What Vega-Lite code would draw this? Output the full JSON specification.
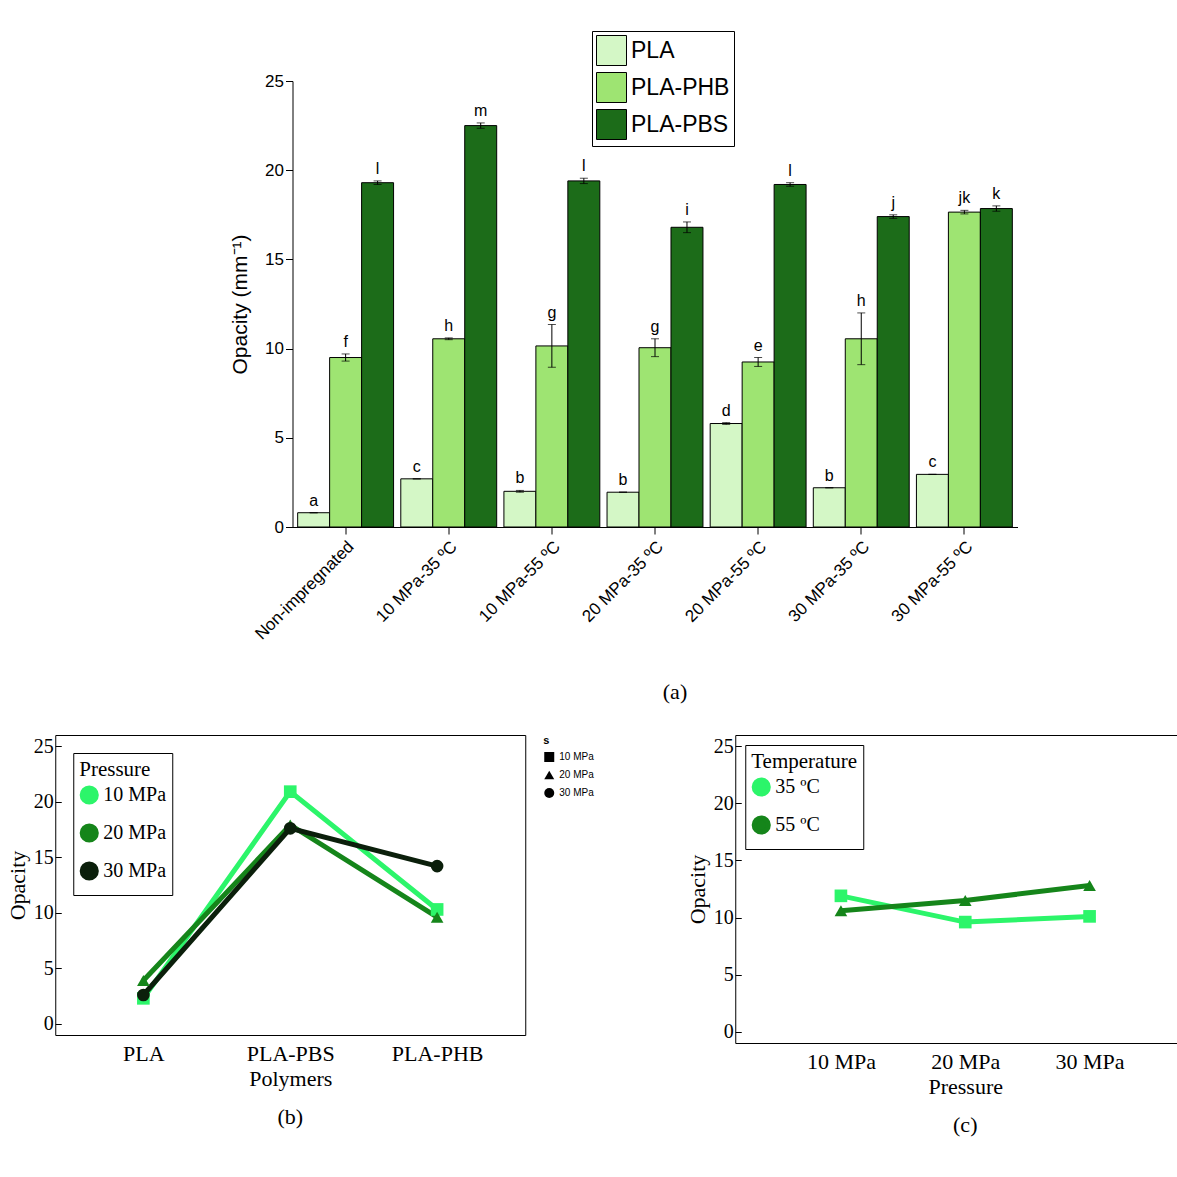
{
  "$schema": "https://vega.github.io/schema/vega-lite/v6.json",
  "background": "white",
  "padding": {"left": 5, "top": 30, "right": 5, "bottom": 5},
  "spacing": 30,
  "center": true,
  "datasets": {
    "bars": [
      {"cond": "Non-impregnated", "poly": "PLA", "v": 0.8, "lo": 0.8, "hi": 0.8, "lab": "a"},
      {"cond": "Non-impregnated", "poly": "PLA-PHB", "v": 9.5, "lo": 9.3, "hi": 9.7, "lab": "f"},
      {"cond": "Non-impregnated", "poly": "PLA-PBS", "v": 19.3, "lo": 19.2, "hi": 19.4, "lab": "l"},
      {"cond": "10 MPa-35 ºC", "poly": "PLA", "v": 2.7, "lo": 2.7, "hi": 2.7, "lab": "c"},
      {"cond": "10 MPa-35 ºC", "poly": "PLA-PHB", "v": 10.55, "lo": 10.5, "hi": 10.6, "lab": "h"},
      {"cond": "10 MPa-35 ºC", "poly": "PLA-PBS", "v": 22.5, "lo": 22.35, "hi": 22.65, "lab": "m"},
      {"cond": "10 MPa-55 ºC", "poly": "PLA", "v": 2.0, "lo": 1.95, "hi": 2.05, "lab": "b"},
      {"cond": "10 MPa-55 ºC", "poly": "PLA-PHB", "v": 10.15, "lo": 8.95, "hi": 11.35, "lab": "g"},
      {"cond": "10 MPa-55 ºC", "poly": "PLA-PBS", "v": 19.4, "lo": 19.25, "hi": 19.55, "lab": "l"},
      {"cond": "20 MPa-35 ºC", "poly": "PLA", "v": 1.95, "lo": 1.95, "hi": 1.95, "lab": "b"},
      {"cond": "20 MPa-35 ºC", "poly": "PLA-PHB", "v": 10.05, "lo": 9.55, "hi": 10.55, "lab": "g"},
      {"cond": "20 MPa-35 ºC", "poly": "PLA-PBS", "v": 16.8, "lo": 16.5, "hi": 17.1, "lab": "i"},
      {"cond": "20 MPa-55 ºC", "poly": "PLA", "v": 5.8, "lo": 5.75, "hi": 5.85, "lab": "d"},
      {"cond": "20 MPa-55 ºC", "poly": "PLA-PHB", "v": 9.25, "lo": 9.0, "hi": 9.5, "lab": "e"},
      {"cond": "20 MPa-55 ºC", "poly": "PLA-PBS", "v": 19.2, "lo": 19.1, "hi": 19.3, "lab": "l"},
      {"cond": "30 MPa-35 ºC", "poly": "PLA", "v": 2.2, "lo": 2.2, "hi": 2.2, "lab": "b"},
      {"cond": "30 MPa-35 ºC", "poly": "PLA-PHB", "v": 10.55, "lo": 9.1, "hi": 12.0, "lab": "h"},
      {"cond": "30 MPa-35 ºC", "poly": "PLA-PBS", "v": 17.4, "lo": 17.3, "hi": 17.5, "lab": "j"},
      {"cond": "30 MPa-55 ºC", "poly": "PLA", "v": 2.95, "lo": 2.95, "hi": 2.95, "lab": "c"},
      {"cond": "30 MPa-55 ºC", "poly": "PLA-PHB", "v": 17.65, "lo": 17.55, "hi": 17.75, "lab": "jk"},
      {"cond": "30 MPa-55 ºC", "poly": "PLA-PBS", "v": 17.85, "lo": 17.7, "hi": 18.0, "lab": "k"}
    ],
    "poly": [
      {"x": "PLA", "s": "10 MPa", "v": 2.3},
      {"x": "PLA-PBS", "s": "10 MPa", "v": 20.9},
      {"x": "PLA-PHB", "s": "10 MPa", "v": 10.3},
      {"x": "PLA", "s": "20 MPa", "v": 3.9},
      {"x": "PLA-PBS", "s": "20 MPa", "v": 17.9},
      {"x": "PLA-PHB", "s": "20 MPa", "v": 9.6},
      {"x": "PLA", "s": "30 MPa", "v": 2.6},
      {"x": "PLA-PBS", "s": "30 MPa", "v": 17.6},
      {"x": "PLA-PHB", "s": "30 MPa", "v": 14.2}
    ],
    "press": [
      {"x": "10 MPa", "s": "35 ºC", "v": 11.9},
      {"x": "20 MPa", "s": "35 ºC", "v": 9.6},
      {"x": "30 MPa", "s": "35 ºC", "v": 10.1},
      {"x": "10 MPa", "s": "55 ºC", "v": 10.6},
      {"x": "20 MPa", "s": "55 ºC", "v": 11.5},
      {"x": "30 MPa", "s": "55 ºC", "v": 12.8}
    ]
  },
  "vconcat": [
    {
      "width": 725,
      "height": 446,
      "data": {"name": "bars"},
      "title": {"text": "(a)", "orient": "bottom", "font": "Liberation Serif", "fontSize": 22, "fontWeight": "normal", "offset": 40, "dx": 20},
      "view": {"stroke": null},
      "encoding": {
        "x": {
          "field": "cond", "type": "nominal", "sort": null, "title": null,
          "scale": {"paddingInner": 0.07, "paddingOuter": 0.05},
          "axis": {"labelAngle": -45, "labelFont": "Liberation Sans", "labelFontSize": 17, "labelColor": "black", "domainColor": "black", "tickColor": "black", "tickSize": 7, "labelPadding": 4}
        },
        "xOffset": {"field": "poly", "type": "nominal", "sort": ["PLA", "PLA-PHB", "PLA-PBS"], "scale": {"paddingInner": 0}}
      },
      "layer": [
        {
          "mark": {"type": "bar", "stroke": "black", "strokeWidth": 1},
          "encoding": {
            "y": {
              "field": "v", "type": "quantitative", "title": "Opacity (mm⁻¹)",
              "scale": {"domain": [0, 25], "nice": false},
              "axis": {"values": [0, 5, 10, 15, 20, 25], "grid": false, "labelFont": "Liberation Sans", "labelFontSize": 17, "labelColor": "black", "titleFont": "Liberation Sans", "titleFontSize": 21, "titleFontWeight": "normal", "titleColor": "black", "domainColor": "black", "tickColor": "black", "tickSize": 7, "titlePadding": 14}
            },
            "color": {
              "field": "poly", "type": "nominal", "sort": ["PLA", "PLA-PHB", "PLA-PBS"],
              "scale": {"domain": ["PLA", "PLA-PHB", "PLA-PBS"], "range": ["#d4f7c6", "#9ee472", "#1c6c19"]},
              "legend": {"orient": "none", "legendX": 537, "legendY": -50, "title": null, "symbolType": "square", "symbolSize": 900, "symbolStrokeColor": "black", "symbolStrokeWidth": 1, "labelFont": "Liberation Sans", "labelFontSize": 23, "labelColor": "black", "strokeColor": "black", "padding": 4, "rowPadding": 2, "fillColor": "white"}
            }
          }
        },
        {
          "mark": {"type": "rule", "color": "black"},
          "encoding": {"y": {"field": "lo", "type": "quantitative"}, "y2": {"field": "hi"}}
        },
        {
          "mark": {"type": "tick", "color": "black", "orient": "horizontal", "size": 8},
          "encoding": {"y": {"field": "lo", "type": "quantitative"}}
        },
        {
          "mark": {"type": "tick", "color": "black", "orient": "horizontal", "size": 8},
          "encoding": {"y": {"field": "hi", "type": "quantitative"}}
        },
        {
          "mark": {"type": "text", "font": "Liberation Sans", "fontSize": 16, "dy": -12, "color": "black"},
          "encoding": {"y": {"field": "hi", "type": "quantitative"}, "text": {"field": "lab"}}
        }
      ]
    },
    {
      "spacing": 90,
      "resolve": {"scale": {"color": "independent", "shape": "independent"}, "legend": {"color": "independent", "shape": "independent"}},
      "hconcat": [
        {
          "width": 470,
          "height": 300,
          "data": {"name": "poly"},
          "title": {"text": "(b)", "orient": "bottom", "font": "Liberation Serif", "fontSize": 22, "fontWeight": "normal", "offset": 18},
          "view": {"stroke": "black"},
          "mark": {"type": "line", "strokeWidth": 5, "point": {"filled": true, "size": 160}},
          "encoding": {
            "x": {"field": "x", "type": "nominal", "sort": null, "title": "Polymers", "scale": {"type": "point", "padding": 0.6},
              "axis": {"labelAngle": 0, "labelFont": "Liberation Serif", "labelFontSize": 22, "labelColor": "black", "titleFont": "Liberation Serif", "titleFontSize": 22, "titleFontWeight": "normal", "titleColor": "black", "ticks": false, "domain": false, "labelPadding": 8}},
            "y": {"field": "v", "type": "quantitative", "title": "Opacity", "scale": {"domain": [-1, 26], "nice": false},
              "axis": {"values": [0, 5, 10, 15, 20, 25], "grid": false, "labelFont": "Liberation Serif", "labelFontSize": 20, "labelColor": "black", "titleFont": "Liberation Serif", "titleFontSize": 22, "titleFontWeight": "normal", "titleColor": "black", "domain": false, "tickColor": "black", "tickSize": -6, "labelPadding": 8}},
            "color": {"field": "s", "type": "nominal", "scale": {"range": ["#2cf56a", "#15851a", "#0b1f0b"]},
              "legend": {"orient": "top-left", "offset": 18, "title": "Pressure", "titleFont": "Liberation Serif", "titleFontSize": 21, "titleFontWeight": "normal", "titleColor": "black", "labelFont": "Liberation Serif", "labelFontSize": 20, "labelColor": "black", "strokeColor": "black", "fillColor": "white", "padding": 6, "rowPadding": 2, "symbolSize": 200, "symbolStrokeWidth": 5}},
            "shape": {"field": "s", "type": "nominal", "scale": {"range": ["square", "triangle-up", "circle"]}}
          }
        },
        {
          "width": 460,
          "height": 308,
          "data": {"name": "press"},
          "title": {"text": "(c)", "orient": "bottom", "font": "Liberation Serif", "fontSize": 22, "fontWeight": "normal", "offset": 18},
          "view": {"stroke": "black"},
          "mark": {"type": "line", "strokeWidth": 5, "point": {"filled": true, "size": 160}},
          "encoding": {
            "x": {"field": "x", "type": "nominal", "sort": null, "title": "Pressure", "scale": {"type": "point", "padding": 0.85},
              "axis": {"labelAngle": 0, "labelFont": "Liberation Serif", "labelFontSize": 22, "labelColor": "black", "titleFont": "Liberation Serif", "titleFontSize": 22, "titleFontWeight": "normal", "titleColor": "black", "ticks": false, "domain": false, "labelPadding": 8}},
            "y": {"field": "v", "type": "quantitative", "title": "Opacity", "scale": {"domain": [-1, 26], "nice": false},
              "axis": {"values": [0, 5, 10, 15, 20, 25], "grid": false, "labelFont": "Liberation Serif", "labelFontSize": 20, "labelColor": "black", "titleFont": "Liberation Serif", "titleFontSize": 22, "titleFontWeight": "normal", "titleColor": "black", "domain": false, "tickColor": "black", "tickSize": -6, "labelPadding": 8}},
            "color": {"field": "s", "type": "nominal", "scale": {"range": ["#2cf56a", "#15851a"]},
              "legend": {"orient": "top-left", "offset": 10, "title": "Temperature", "titleFont": "Liberation Serif", "titleFontSize": 21, "titleFontWeight": "normal", "titleColor": "black", "labelFont": "Liberation Serif", "labelFontSize": 20, "labelColor": "black", "strokeColor": "black", "fillColor": "white", "padding": 6, "rowPadding": 2, "symbolSize": 200, "symbolStrokeWidth": 5}},
            "shape": {"field": "s", "type": "nominal", "scale": {"range": ["square", "triangle-up"]}}
          }
        }
      ]
    }
  ]
}
